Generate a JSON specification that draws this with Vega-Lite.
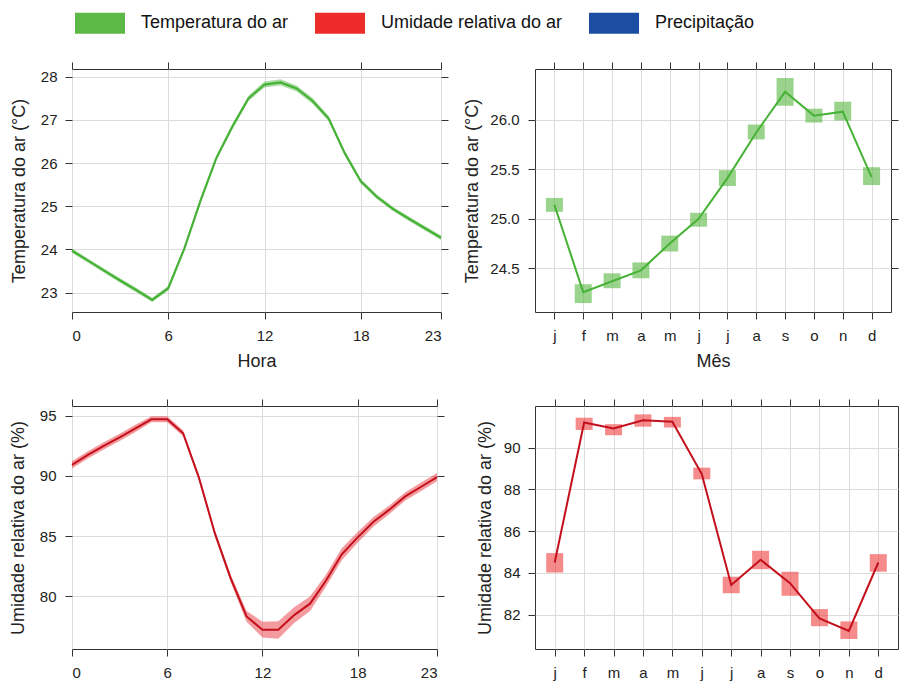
{
  "$schema": "https://vega.github.io/schema/vega-lite/v6.json",
  "autosize": {"type": "pad"},
  "padding": {"left": 8, "top": 6, "right": 0, "bottom": 0},
  "background": "white",
  "columns": 2,
  "align": "each",
  "bounds": "flush",
  "spacing": {"row": 94, "column": 94},
  "datasets": {
    "hourly": [
      {"hour": 0, "temp": 23.97, "temp_lo": 23.92, "temp_hi": 24.02, "rh": 90.91, "rh_lo": 90.61, "rh_hi": 91.21},
      {"hour": 1, "temp": 23.74, "temp_lo": 23.69, "temp_hi": 23.79, "rh": 91.74, "rh_lo": 91.44, "rh_hi": 92.04},
      {"hour": 2, "temp": 23.51, "temp_lo": 23.46, "temp_hi": 23.56, "rh": 92.5, "rh_lo": 92.2, "rh_hi": 92.8},
      {"hour": 3, "temp": 23.28, "temp_lo": 23.23, "temp_hi": 23.33, "rh": 93.2, "rh_lo": 92.9, "rh_hi": 93.5},
      {"hour": 4, "temp": 23.06, "temp_lo": 23.01, "temp_hi": 23.11, "rh": 93.95, "rh_lo": 93.65, "rh_hi": 94.25},
      {"hour": 5, "temp": 22.83, "temp_lo": 22.78, "temp_hi": 22.88, "rh": 94.7, "rh_lo": 94.45, "rh_hi": 94.95},
      {"hour": 6, "temp": 23.1, "temp_lo": 23.05, "temp_hi": 23.15, "rh": 94.7, "rh_lo": 94.45, "rh_hi": 94.95},
      {"hour": 7, "temp": 24.02, "temp_lo": 23.97, "temp_hi": 24.07, "rh": 93.54, "rh_lo": 93.3, "rh_hi": 93.78},
      {"hour": 8, "temp": 25.12, "temp_lo": 25.07, "temp_hi": 25.17, "rh": 89.85, "rh_lo": 89.6, "rh_hi": 90.1},
      {"hour": 9, "temp": 26.12, "temp_lo": 26.07, "temp_hi": 26.17, "rh": 85.25, "rh_lo": 85.0, "rh_hi": 85.5},
      {"hour": 10, "temp": 26.85, "temp_lo": 26.79, "temp_hi": 26.91, "rh": 81.5, "rh_lo": 81.2, "rh_hi": 81.8},
      {"hour": 11, "temp": 27.5, "temp_lo": 27.44, "temp_hi": 27.56, "rh": 78.34, "rh_lo": 77.9, "rh_hi": 78.8},
      {"hour": 12, "temp": 27.82, "temp_lo": 27.75, "temp_hi": 27.89, "rh": 77.24, "rh_lo": 76.6, "rh_hi": 77.9},
      {"hour": 13, "temp": 27.87, "temp_lo": 27.8, "temp_hi": 27.94, "rh": 77.24, "rh_lo": 76.5, "rh_hi": 77.95},
      {"hour": 14, "temp": 27.73, "temp_lo": 27.66, "temp_hi": 27.8, "rh": 78.45, "rh_lo": 77.8, "rh_hi": 79.1},
      {"hour": 15, "temp": 27.44, "temp_lo": 27.37, "temp_hi": 27.51, "rh": 79.4, "rh_lo": 78.8, "rh_hi": 80.0},
      {"hour": 16, "temp": 27.03, "temp_lo": 26.97, "temp_hi": 27.09, "rh": 81.3, "rh_lo": 80.8, "rh_hi": 81.8},
      {"hour": 17, "temp": 26.23, "temp_lo": 26.18, "temp_hi": 26.28, "rh": 83.5, "rh_lo": 83.0, "rh_hi": 84.0},
      {"hour": 18, "temp": 25.58, "temp_lo": 25.53, "temp_hi": 25.63, "rh": 84.9, "rh_lo": 84.45, "rh_hi": 85.35},
      {"hour": 19, "temp": 25.22, "temp_lo": 25.17, "temp_hi": 25.27, "rh": 86.2, "rh_lo": 85.8, "rh_hi": 86.6},
      {"hour": 20, "temp": 24.94, "temp_lo": 24.89, "temp_hi": 24.99, "rh": 87.2, "rh_lo": 86.85, "rh_hi": 87.55},
      {"hour": 21, "temp": 24.71, "temp_lo": 24.66, "temp_hi": 24.76, "rh": 88.3, "rh_lo": 87.95, "rh_hi": 88.65},
      {"hour": 22, "temp": 24.49, "temp_lo": 24.44, "temp_hi": 24.54, "rh": 89.1, "rh_lo": 88.75, "rh_hi": 89.45},
      {"hour": 23, "temp": 24.27, "temp_lo": 24.22, "temp_hi": 24.32, "rh": 89.9, "rh_lo": 89.55, "rh_hi": 90.25}
    ],
    "monthly": [
      {"mes": 1, "temp": 25.14, "temp_lo": 25.07, "temp_hi": 25.21, "rh": 84.5, "rh_lo": 84.02, "rh_hi": 84.95},
      {"mes": 2, "temp": 24.26, "temp_lo": 24.15, "temp_hi": 24.34, "rh": 91.2, "rh_lo": 90.84, "rh_hi": 91.43},
      {"mes": 3, "temp": 24.37, "temp_lo": 24.3, "temp_hi": 24.45, "rh": 90.91, "rh_lo": 90.59, "rh_hi": 91.12},
      {"mes": 4, "temp": 24.48, "temp_lo": 24.4, "temp_hi": 24.56, "rh": 91.31, "rh_lo": 91.0, "rh_hi": 91.59},
      {"mes": 5, "temp": 24.75, "temp_lo": 24.67, "temp_hi": 24.83, "rh": 91.24, "rh_lo": 90.96, "rh_hi": 91.47},
      {"mes": 6, "temp": 25.0, "temp_lo": 24.92, "temp_hi": 25.06, "rh": 88.73, "rh_lo": 88.48, "rh_hi": 89.04},
      {"mes": 7, "temp": 25.41, "temp_lo": 25.33, "temp_hi": 25.49, "rh": 83.42, "rh_lo": 83.03, "rh_hi": 83.82},
      {"mes": 8, "temp": 25.87, "temp_lo": 25.8, "temp_hi": 25.95, "rh": 84.63, "rh_lo": 84.18, "rh_hi": 85.06},
      {"mes": 9, "temp": 26.28, "temp_lo": 26.14, "temp_hi": 26.42, "rh": 83.51, "rh_lo": 82.91, "rh_hi": 84.06},
      {"mes": 10, "temp": 26.04, "temp_lo": 25.97, "temp_hi": 26.11, "rh": 81.82, "rh_lo": 81.45, "rh_hi": 82.27},
      {"mes": 11, "temp": 26.08, "temp_lo": 25.99, "temp_hi": 26.18, "rh": 81.23, "rh_lo": 80.84, "rh_hi": 81.68},
      {"mes": 12, "temp": 25.42, "temp_lo": 25.34, "temp_hi": 25.52, "rh": 84.5, "rh_lo": 84.06, "rh_hi": 84.9}
    ]
  },
  "concat": [
    {
      "width": 369, "height": 243,
      "data": {"name": "hourly"},
      "layer": [
        {
          "mark": {"type": "area", "color": "#4cb43c", "opacity": 0.45},
          "encoding": {
            "x": {"field": "hour", "type": "quantitative", "scale": {"domain": [0, 23], "nice": false, "zero": false},
                  "axis": {"values": [0, 6, 12, 18, 23], "title": "Hora", "labelPadding": 9, "titlePadding": 9}},
            "y": {"field": "temp_lo", "type": "quantitative", "scale": {"domain": [22.55, 28.18], "nice": false, "zero": false},
                  "axis": {"values": [23, 24, 25, 26, 27, 28], "title": "Temperatura do ar (°C)", "labelPadding": 8, "titlePadding": 12}},
            "y2": {"field": "temp_hi"}
          }
        },
        {
          "mark": {"type": "line", "color": "#46b236", "strokeWidth": 2.2},
          "encoding": {
            "x": {"field": "hour", "type": "quantitative", "scale": {"domain": [0, 23], "nice": false, "zero": false}, "axis": null},
            "y": {"field": "temp", "type": "quantitative", "scale": {"domain": [22.55, 28.18], "nice": false, "zero": false}, "axis": null}
          }
        },
        {
          "mark": {"type": "line", "strokeOpacity": 0},
          "encoding": {
            "x": {"field": "hour", "type": "quantitative", "scale": {"domain": [0, 23], "nice": false, "zero": false},
                  "axis": {"orient": "top", "values": [0, 6, 12, 18, 23], "labels": false, "title": null, "grid": false}},
            "y": {"field": "temp", "type": "quantitative", "scale": {"domain": [22.55, 28.18], "nice": false, "zero": false},
                  "axis": {"orient": "right", "values": [23, 24, 25, 26, 27, 28], "labels": false, "title": null, "grid": false}}
          }
        }
      ],
      "resolve": {"axis": {"x": "independent", "y": "independent"}}
    },
    {
      "width": 356, "height": 243,
      "data": {"name": "monthly"},
      "layer": [
        {
          "mark": {"type": "bar", "size": 17, "color": "#5cb946", "opacity": 0.62},
          "encoding": {
            "x": {"field": "mes", "type": "quantitative", "scale": {"domain": [0.5, 12.5], "nice": false, "zero": false},
                  "axis": {"values": [1, 2, 3, 4, 5, 6, 7, 8, 9, 10, 11, 12], "labelExpr": "['j','f','m','a','m','j','j','a','s','o','n','d'][datum.value-1]", "title": "Mês", "labelPadding": 9, "titlePadding": 9}},
            "y": {"field": "temp_lo", "type": "quantitative", "scale": {"domain": [24.06, 26.51], "nice": false, "zero": false},
                  "axis": {"values": [24.5, 25, 25.5, 26], "format": ".1f", "title": "Temperatura do ar (°C)", "labelPadding": 9, "titlePadding": 8}},
            "y2": {"field": "temp_hi"}
          }
        },
        {
          "mark": {"type": "line", "color": "#46b236", "strokeWidth": 2},
          "encoding": {
            "x": {"field": "mes", "type": "quantitative", "scale": {"domain": [0.5, 12.5], "nice": false, "zero": false}, "axis": null},
            "y": {"field": "temp", "type": "quantitative", "scale": {"domain": [24.06, 26.51], "nice": false, "zero": false}, "axis": null}
          }
        },
        {
          "transform": [{"filter": "datum.mes < 0"}],
          "mark": {"type": "bar", "size": 17},
          "encoding": {
            "x": {"field": "mes", "type": "quantitative", "scale": {"domain": [0.5, 12.5], "nice": false, "zero": false}, "axis": null},
            "y": {"field": "temp", "type": "quantitative", "scale": {"domain": [24.06, 26.51], "nice": false, "zero": false}, "axis": null},
            "color": {"datum": "Temperatura do ar", "type": "nominal",
                      "scale": {"domain": ["Temperatura do ar", "Umidade relativa do ar", "Precipitação"], "range": ["#5cb946", "#ee2b2b", "#1b4ea3"]},
                      "legend": {"orient": "none", "legendX": 11, "legendY": -63, "direction": "horizontal", "title": null,
                                 "symbolType": "M-1.5,-0.63H1.5V0.63H-1.5Z", "symbolSize": 1111, "symbolOpacity": 1, "symbolStrokeWidth": 0,
                                 "labelFontSize": 18, "labelOffset": 24, "columnPadding": 26, "labelFont": "Liberation Sans", "labelColor": "#111", "padding": 0, "labelLimit": 400}}
          }
        },
        {
          "mark": {"type": "line", "strokeOpacity": 0},
          "encoding": {
            "x": {"field": "mes", "type": "quantitative", "scale": {"domain": [0.5, 12.5], "nice": false, "zero": false},
                  "axis": {"orient": "top", "values": [1, 2, 3, 4, 5, 6, 7, 8, 9, 10, 11, 12], "labels": false, "title": null, "grid": false}},
            "y": {"field": "temp", "type": "quantitative", "scale": {"domain": [24.06, 26.51], "nice": false, "zero": false},
                  "axis": {"orient": "right", "values": [24.5, 25, 25.5, 26], "labels": false, "title": null, "grid": false}}
          }
        }
      ],
      "resolve": {"axis": {"x": "independent", "y": "independent"}}
    },
    {
      "width": 365, "height": 243,
      "data": {"name": "hourly"},
      "layer": [
        {
          "mark": {"type": "area", "color": "#e8383d", "opacity": 0.5},
          "encoding": {
            "x": {"field": "hour", "type": "quantitative", "scale": {"domain": [0, 23], "nice": false, "zero": false},
                  "axis": {"values": [0, 6, 12, 18, 23], "title": null, "labelPadding": 9}},
            "y": {"field": "rh_lo", "type": "quantitative", "scale": {"domain": [75.64, 95.8], "nice": false, "zero": false},
                  "axis": {"values": [80, 85, 90, 95], "title": "Umidade relativa do ar (%)", "labelPadding": 9, "titlePadding": 12}},
            "y2": {"field": "rh_hi"}
          }
        },
        {
          "mark": {"type": "line", "color": "#c4101c", "strokeWidth": 2},
          "encoding": {
            "x": {"field": "hour", "type": "quantitative", "scale": {"domain": [0, 23], "nice": false, "zero": false}, "axis": null},
            "y": {"field": "rh", "type": "quantitative", "scale": {"domain": [75.64, 95.8], "nice": false, "zero": false}, "axis": null}
          }
        },
        {
          "mark": {"type": "line", "strokeOpacity": 0},
          "encoding": {
            "x": {"field": "hour", "type": "quantitative", "scale": {"domain": [0, 23], "nice": false, "zero": false},
                  "axis": {"orient": "top", "values": [0, 6, 12, 18, 23], "labels": false, "title": null, "grid": false}},
            "y": {"field": "rh", "type": "quantitative", "scale": {"domain": [75.64, 95.8], "nice": false, "zero": false},
                  "axis": {"orient": "right", "values": [80, 85, 90, 95], "labels": false, "title": null, "grid": false}}
          }
        }
      ],
      "resolve": {"axis": {"x": "independent", "y": "independent"}}
    },
    {
      "width": 363, "height": 243,
      "data": {"name": "monthly"},
      "layer": [
        {
          "mark": {"type": "bar", "size": 17, "color": "#ee2b2b", "opacity": 0.55},
          "encoding": {
            "x": {"field": "mes", "type": "quantitative", "scale": {"domain": [0.5, 12.5], "nice": false, "zero": false},
                  "axis": {"values": [1, 2, 3, 4, 5, 6, 7, 8, 9, 10, 11, 12], "labelExpr": "['j','f','m','a','m','j','j','a','s','o','n','d'][datum.value-1]", "title": null, "labelPadding": 9}},
            "y": {"field": "rh_lo", "type": "quantitative", "scale": {"domain": [80.36, 91.99], "nice": false, "zero": false},
                  "axis": {"values": [82, 84, 86, 88, 90], "title": "Umidade relativa do ar (%)", "labelPadding": 8, "titlePadding": 9}},
            "y2": {"field": "rh_hi"}
          }
        },
        {
          "mark": {"type": "line", "color": "#c4101c", "strokeWidth": 2},
          "encoding": {
            "x": {"field": "mes", "type": "quantitative", "scale": {"domain": [0.5, 12.5], "nice": false, "zero": false}, "axis": null},
            "y": {"field": "rh", "type": "quantitative", "scale": {"domain": [80.36, 91.99], "nice": false, "zero": false}, "axis": null}
          }
        },
        {
          "mark": {"type": "line", "strokeOpacity": 0},
          "encoding": {
            "x": {"field": "mes", "type": "quantitative", "scale": {"domain": [0.5, 12.5], "nice": false, "zero": false},
                  "axis": {"orient": "top", "values": [1, 2, 3, 4, 5, 6, 7, 8, 9, 10, 11, 12], "labels": false, "title": null, "grid": false}},
            "y": {"field": "rh", "type": "quantitative", "scale": {"domain": [80.36, 91.99], "nice": false, "zero": false}, "axis": null}
          }
        }
      ],
      "resolve": {"axis": {"x": "independent", "y": "independent"}}
    }
  ],
  "config": {
    "view": {"stroke": "#333333", "strokeWidth": 1},
    "axis": {
      "domain": false,
      "tickColor": "#333333",
      "tickSize": 7,
      "tickWidth": 1,
      "labelFont": "Liberation Sans",
      "labelFontSize": 15,
      "labelColor": "#222222",
      "titleFont": "Liberation Sans",
      "titleFontSize": 18,
      "titleFontWeight": "normal",
      "titleColor": "#222222",
      "gridColor": "#dcdcdc",
      "gridWidth": 1
    },
    "legend": {"symbolStrokeWidth": 0}
  }
}
